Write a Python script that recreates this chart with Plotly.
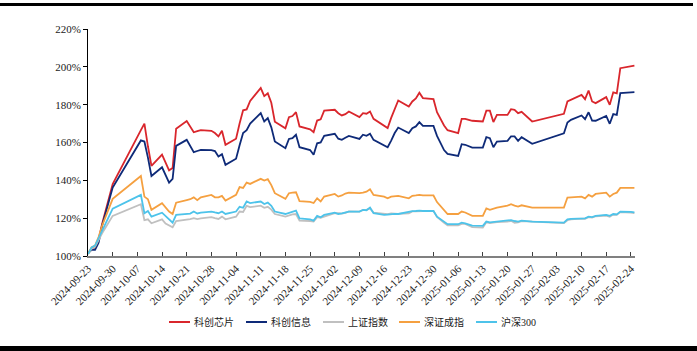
import plotly.graph_objects as go

dates = [
    "2024-09-23", "2024-09-24", "2024-09-25", "2024-09-26", "2024-09-27", "2024-09-30",
    "2024-10-08", "2024-10-09", "2024-10-10", "2024-10-11",
    "2024-10-14", "2024-10-15", "2024-10-16", "2024-10-17", "2024-10-18",
    "2024-10-21", "2024-10-22", "2024-10-23", "2024-10-24", "2024-10-25",
    "2024-10-28", "2024-10-29", "2024-10-30", "2024-10-31", "2024-11-01",
    "2024-11-04", "2024-11-05", "2024-11-06", "2024-11-07", "2024-11-08",
    "2024-11-11", "2024-11-12", "2024-11-13", "2024-11-14", "2024-11-15",
    "2024-11-18", "2024-11-19", "2024-11-20", "2024-11-21", "2024-11-22",
    "2024-11-25", "2024-11-26", "2024-11-27", "2024-11-28", "2024-11-29",
    "2024-12-02", "2024-12-03", "2024-12-04", "2024-12-05", "2024-12-06",
    "2024-12-09", "2024-12-10", "2024-12-11", "2024-12-12", "2024-12-13",
    "2024-12-16", "2024-12-17", "2024-12-18", "2024-12-19", "2024-12-20",
    "2024-12-23", "2024-12-24", "2024-12-25", "2024-12-26", "2024-12-27",
    "2024-12-30", "2024-12-31", "2025-01-02", "2025-01-03",
    "2025-01-06", "2025-01-07", "2025-01-08", "2025-01-09", "2025-01-10",
    "2025-01-13", "2025-01-14", "2025-01-15", "2025-01-16", "2025-01-17",
    "2025-01-20", "2025-01-21", "2025-01-22", "2025-01-23", "2025-01-24",
    "2025-01-27",
    "2025-02-05", "2025-02-06", "2025-02-07",
    "2025-02-10", "2025-02-11", "2025-02-12", "2025-02-13", "2025-02-14",
    "2025-02-17", "2025-02-18", "2025-02-19", "2025-02-20", "2025-02-21",
    "2025-02-24", "2025-02-25",
]

kc_chip = [
    101.4, 104, 104.5, 108.5, 117, 138,
    166.5, 170, 158, 147.6, 153.6, 149.5, 145.3, 146.5, 167.3,
    171.4, 168.5, 165.4, 166, 166.5,
    166.2, 165, 163.2, 166.2, 158.8,
    162, 170, 177, 177.5, 182,
    188.8, 184.5, 186, 181, 171,
    167.5, 173.4, 174, 176, 168.5,
    167, 165.5, 171.6, 172.3, 176.8,
    177.3, 175.5, 174.3, 175, 176.4,
    173.4, 175.5, 175.2, 176.4, 172.5,
    169, 167.6, 173, 178, 182.2,
    179, 181.7, 183.3, 186.3, 183.5,
    182.9, 176, 169, 166.5,
    165, 172.5, 172.5, 172, 171.5,
    171.1, 176.8, 176.8, 170.8, 174.6,
    174.6, 177.6, 177.3, 175.5, 176.2,
    171.1,
    175.2, 181.7, 182.5,
    185.2, 182.9, 187.5, 181.7, 180.8,
    184, 179.9, 186.5, 186, 199.3,
    200.3, 200.6,
]

kc_info = [
    101.4, 103.2, 103.3, 107, 116, 136.2,
    161.1, 160.5, 152, 142.3, 146.9, 143, 138.8, 140.8, 158.2,
    161.4, 158, 154.9, 155.5, 156.1,
    156, 155.5, 152.6, 153.8, 148.2,
    151.4, 158.5, 165, 166.5, 170,
    175.5, 171.1, 172.9, 168, 160.5,
    157, 161.9, 162.3, 164.1, 157.5,
    156, 153.5, 159.6, 160, 163.5,
    164.6, 162, 161.4, 162.5, 163.5,
    161.9, 164.1, 163.5, 164.6, 161.4,
    158.5, 157.5, 161, 165, 167.9,
    165, 167.6, 168.5, 170.8, 168.8,
    168.8, 163.5, 156, 154,
    152.9, 159.1, 158.8, 158, 157.3,
    157.3, 162.8, 162.3, 157.5, 160.5,
    160.9, 163.2, 163.2, 160.9, 162.8,
    159.3,
    164.9, 170.6, 172,
    174.3, 172.3, 176, 171.6, 171.5,
    174.1, 169.9, 175, 174.6, 186.1,
    186.5, 186.6,
]

sh_index = [
    101, 103.8, 104.8, 108.5, 112, 121.2,
    127.4, 119, 119.4, 117.3, 119.4, 117.2, 116.4, 115.2, 118.5,
    119, 119.5, 120, 119.5, 119.9,
    120.5, 120, 119.6, 120.8, 119.4,
    120.8, 123.5, 123.3, 126.5, 125.8,
    126.6, 125.5, 126, 124.5, 122.2,
    120.8, 121.5, 122, 122.2, 118.7,
    118.5, 118.2, 120.5, 120.2, 120.8,
    122.6, 122.6, 122.4, 122.8, 123.6,
    123.5, 124.3, 124.4, 125.2, 122.9,
    122.6, 122.1, 122.5, 122.3, 122.3,
    122.6, 123.6, 123.6, 123.8, 123.8,
    123.9, 120.6, 117.5, 116.2,
    116.2, 117, 117, 116.2, 115.3,
    115, 117.8, 117.4, 117.7, 117.9,
    118.2, 118.6, 117.6, 117.8, 118.4,
    118.1,
    117.4, 118.9, 119.4,
    119.8, 119.7, 120.5, 120.3, 121,
    121.4, 120.8, 121.9, 121.8, 123.2,
    123, 122.7,
]

sz_index = [
    101.2, 104.5, 105.5, 110, 116, 130.2,
    142.3, 131.4, 130, 124.4, 127.9, 125.5, 123.5, 122.2, 128.2,
    129.6, 130, 131, 129.5, 131,
    132.3, 131, 131, 131.8, 129.3,
    132.3, 136.4, 136, 138.8, 138.1,
    140.8, 139.9, 140.6, 137.5, 133.2,
    130.2, 133.2, 133.5, 133.7, 129,
    128.6, 128, 130.5, 128.8, 131.4,
    132.8, 131.4, 132, 133, 133.5,
    133.2, 133.5, 134, 135.3, 132.3,
    131.4, 130.5, 131.4, 131.6, 131.8,
    130.5, 131.8, 132, 132.3, 132,
    132, 128.5, 124, 122.2,
    122.2, 123.5, 123, 122, 121.2,
    121.2, 125.2, 124.4, 125, 125.6,
    126.6, 127.4, 126.6, 126.1, 126.8,
    125.6,
    125.6, 130.9, 131,
    131.4, 130.5, 132.3, 131.4, 132.8,
    133.5, 131.4, 132.8, 133.5, 136,
    136, 136,
]

hs300 = [
    101, 104.5, 105.5, 109.5, 113.5, 125,
    132.3, 122.6, 123.8, 120.8, 122.9, 121, 119.4, 117.6, 121.7,
    122.2, 122.4, 123.5, 122.5, 122.9,
    123.5, 123, 122.6, 123.5, 122.2,
    123.5, 126, 125.5, 128.8, 128,
    128.8, 127.5, 128.2, 126.5, 123.5,
    122.2, 122.9, 123.2, 124, 119.9,
    119.4, 118.7, 121.2, 120.5, 121.7,
    122.9, 122.2, 122.5, 123.2, 123.5,
    123.5, 124.4, 124.2, 125.6, 122.6,
    121.7, 121.9, 122.2, 122.3, 122.2,
    123.5, 123.7, 123.8, 124, 123.8,
    123.8, 120.8, 118, 116.8,
    116.8, 117.6, 117.3, 116.5, 116.1,
    115.9, 118.2, 117.8, 118, 118.2,
    118.5, 119, 118.5, 118.2, 118.7,
    118.2,
    117.6, 119.4, 119.6,
    119.9, 119.9, 120.8, 120.6, 121.2,
    121.7, 121.2, 122.2, 122, 123.5,
    123.3, 123.1,
]

series_names = ["科创芯片", "科创信息", "上证指数", "深证成指", "沪深300"]
series_values = [kc_chip, kc_info, sh_index, sz_index, hs300]
series_colors = ["#D9262C", "#0E2A78", "#C0C0C0", "#F5A040", "#4DC3EA"]

y_ticks = [100, 120, 140, 160, 180, 200, 220]

SERIF = "Liberation Serif"
LEGEND_FONT = "Liberation Serif, Noto Sans CJK SC"

fig = go.Figure()
for name, vals, col in zip(series_names, series_values, series_colors):
    fig.add_trace(go.Scatter(
        x=dates, y=vals, name=name, mode="lines",
        line=dict(color=col, width=1.8), showlegend=False,
    ))

# plot area in px: x 88..635, y 29..256
L, R, T, B = 88, 62, 29, 95
W, H = 697, 351
pw, ph = W - L - R, H - T - B

def px_x(p):
    return (p - L) / pw

def px_y(p):
    return (H - B - p) / ph

shapes = [
    dict(type="rect", xref="paper", yref="paper",
         x0=px_x(0), x1=px_x(693), y0=px_y(6), y1=px_y(3),
         fillcolor="black", line=dict(width=0), layer="above"),
    dict(type="rect", xref="paper", yref="paper",
         x0=px_x(0), x1=px_x(697), y0=px_y(351), y1=px_y(346),
         fillcolor="black", line=dict(width=0), layer="above"),
]

# manual legend (line sample + label)
legend_x = [169, 246, 323, 399, 476]
legend_y = 322
annotations = []
for lx, name, col in zip(legend_x, series_names, series_colors):
    shapes.append(dict(type="line", xref="paper", yref="paper",
                       x0=px_x(lx), x1=px_x(lx + 21),
                       y0=px_y(legend_y), y1=px_y(legend_y),
                       line=dict(color=col, width=2)))
    annotations.append(dict(xref="paper", yref="paper",
                            x=px_x(lx + 23), y=px_y(legend_y),
                            xanchor="left", yanchor="middle",
                            text=name, showarrow=False,
                            font=dict(family=LEGEND_FONT, size=10, color="#1a1a1a")))

fig.update_layout(
    width=W, height=H,
    margin=dict(l=L, r=R, t=T, b=B),
    paper_bgcolor="white", plot_bgcolor="white",
    font=dict(family=SERIF, size=11, color="#1a1a1a"),
    showlegend=False,
    shapes=shapes,
    annotations=annotations,
    xaxis=dict(
        type="date",
        range=["2024-09-23", "2025-02-25 04:00"],
        tick0="2024-09-23", dtick=7 * 86400000,
        tickformat="%Y-%m-%d", tickangle=-45,
        showgrid=False, zeroline=False,
        showline=True, linecolor="#808080", linewidth=2,
        ticks="inside", ticklen=4, tickcolor="#404040", tickwidth=1,
        tickfont=dict(size=11, family=SERIF, color="#1a1a1a"),
    ),
    yaxis=dict(
        range=[100, 220], tickvals=y_ticks,
        ticktext=[f"{v}%" for v in y_ticks],
        showgrid=False, zeroline=False,
        showline=True, linecolor="#000000", linewidth=1,
        ticks="outside", ticklen=4, tickcolor="#000000",
        tickfont=dict(size=11, family=SERIF, color="#1a1a1a"),
    ),
)

fig.write_html("out.html")
